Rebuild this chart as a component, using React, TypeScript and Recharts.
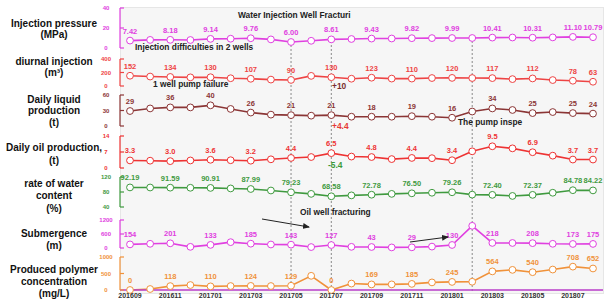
import React from "react";
import { LineChart, Line, XAxis, YAxis, LabelList, ReferenceLine } from "recharts";

const MONTHS = [
  "201609", "201610", "201611", "201612", "201701", "201702", "201703", "201704",
  "201705", "201706", "201707", "201708", "201709", "201710", "201711", "201712",
  "201801", "201802", "201803", "201804", "201805", "201806", "201807", "201808",
];

const PRESSURE = [7.42, 8.1, 8.18, 8.0, 9.14, 9.3, 9.76, 8.6, 6.0, 7.2, 8.61, 9.0, 9.43, 9.5, 9.82, 9.9, 9.99, 10.0, 10.41, 10.5, 10.31, 10.6, 11.1, 10.79];
const INJECTION = [152, 140, 134, 128, 130, 115, 107, 95, 90, 150, 130, 108, 123, 110, 110, 118, 120, 118, 117, 102, 112, 88, 78, 63];
const LIQUID = [29, 34, 36, 36, 40, 33, 26, 22, 21, 20, 21, 18, 18, 18, 19, 18, 16, 28, 34, 31, 25, 27, 25, 24];
const OIL = [3.3, 3.2, 3.0, 3.3, 3.6, 3.4, 3.2, 3.8, 4.4, 4.8, 6.5, 5.0, 4.8, 3.9, 4.4, 4.3, 3.4, 7.3, 9.5, 8.6, 6.9, 5.4, 3.7, 3.7];
const WATER = [92.19, 92.0, 91.59, 91.3, 90.91, 89.5, 87.99, 84.0, 79.23, 75.0, 68.58, 71.0, 72.78, 75.0, 76.5, 78.0, 79.26, 73.0, 72.4, 69.5, 72.37, 78.0, 84.78, 84.22];
const SUBMERGENCE = [154, 180, 201, 50, 133, 250, 185, 150, 143, 40, 127, 50, 43, 25, 29, 60, 130, 950, 218, 215, 208, 180, 173, 175];
const POLYMER = [0, 30, 118, 150, 110, 120, 124, 120, 129, 430, 0, 195, 169, 170, 185, 230, 245, 250, 564, 610, 540, 620, 708, 652];

// months with an event (dotted guides)
const EVENTS = ["201705", "201707", "201802"];

const W = 608;
const H = 307;
const FONT = '"Liberation Sans", Arial, sans-serif';

type PanelProps = {
  values: number[];
  color: string;
  domain: [number, number];
  ticks: number[];
  top: number;
  bottom: number;
  fmt: (v: number) => string;
  showX?: boolean;
};

function Panel({ values, color, domain, ticks, top, bottom, fmt, showX }: PanelProps) {
  const rows = MONTHS.map((m, i) => ({
    month: m,
    v: values[i],
    lbl: i % 2 === 0 || i === values.length - 1 ? fmt(values[i]) : null,
  }));
  const xh = showX ? 14 : 0;

  const renderTick = (p: any) => (
    <g>
      <text x={106} y={p.y} textAnchor="middle" dominantBaseline="central"
        fontSize={6} fontWeight="bold" fill={color}>
        {p.payload.value}
      </text>
      <line x1={120} x2={124} y1={p.y} y2={p.y} stroke={color} strokeWidth={1.2} />
    </g>
  );

  return (
    <div style={{ position: "absolute", left: 0, top: 0 }}>
      <LineChart width={W} height={H} data={rows}
        margin={{ top, bottom: H - bottom - xh, left: 90, right: 5 }}>
        {showX ? (
          <XAxis dataKey="month" interval={1} height={xh} padding={{ left: 10, right: 10 }}
            tickLine={false} tickSize={0} tickMargin={3}
            axisLine={{ stroke: "#b83cc8", strokeWidth: 1.5 }}
            tick={{ fontSize: 7, fill: "#333", fontWeight: "bold" }} />
        ) : (
          <XAxis dataKey="month" hide padding={{ left: 10, right: 10 }} />
        )}
        <YAxis domain={domain} ticks={ticks} interval={0} width={30}
          tickLine={false} axisLine={{ stroke: color, strokeWidth: 1.2 }} tick={renderTick} />
        <Line type="linear" dataKey="v" stroke={color} strokeWidth={1.6}
          dot={{ r: 3.4, fill: "#fff", stroke: color, strokeWidth: 1 }}
          activeDot={false} isAnimationActive={false}>
          <LabelList dataKey="lbl" position="top" offset={7}
            fill={color} fontSize={7.5} fontWeight="bold" />
        </Line>
      </LineChart>
    </div>
  );
}

function Guides() {
  const rows = MONTHS.map((m) => ({ month: m, g: 0.5 }));
  return (
    <div style={{ position: "absolute", left: 0, top: 0 }}>
      <LineChart width={W} height={H} data={rows} margin={{ top: 40, bottom: 16, left: 120, right: 5 }}>
        <XAxis dataKey="month" hide padding={{ left: 10, right: 10 }} />
        <YAxis hide domain={[0, 1]} />
        <Line dataKey="g" stroke="none" dot={false} activeDot={false} isAnimationActive={false} />
        {EVENTS.map((m) => (
          <ReferenceLine key={m} x={m} stroke="#8a8a8a" strokeWidth={1} strokeDasharray="2 2" />
        ))}
      </LineChart>
    </div>
  );
}

const titleStyle = { fontSize: 10, fontWeight: "bold" as const, fill: "#111" };
const noteStyle = { fontSize: 8.4, fontWeight: "bold" as const, fill: "#222" };

function Overlay() {
  const titles: [string, number][] = [
    ["Injection pressure", 23], ["(MPa)", 34],
    ["diurnal injection", 61], ["(m³)", 72],
    ["Daily liquid", 99], ["production", 110], ["(t)", 122],
    ["Daily oil production,", 147], ["(t)", 160],
    ["rate of water", 183], ["content", 195], ["(%)", 208],
    ["Submergence", 233], ["(m)", 245],
    ["Produced polymer", 269], ["concentration", 281], ["(mg/L)", 293],
  ];
  return (
    <svg width={W} height={H} style={{ position: "absolute", left: 0, top: 0, pointerEvents: "none" }}>
      <defs>
        <marker id="ah" markerWidth="7" markerHeight="6" refX="6" refY="3" orient="auto">
          <path d="M0,0 L7,3 L0,6 z" fill="#222" />
        </marker>
      </defs>
      {titles.map(([t, y], i) => (
        <text key={i} x={54} y={y} textAnchor="middle" dominantBaseline="central" {...titleStyle}>{t}</text>
      ))}
      <text x={238} y={15} dominantBaseline="central" {...noteStyle}>Water Injection Well Fracturi</text>
      <text x={135} y={47} dominantBaseline="central" {...noteStyle}>Injection difficulties in 2 wells</text>
      <text x={153} y={84} dominantBaseline="central" {...noteStyle}>1 well pump failure</text>
      <text x={332} y={86} dominantBaseline="central" {...noteStyle} fill="#7a2e2e">+10</text>
      <text x={332} y={126} dominantBaseline="central" {...noteStyle} fill="#e53935">+4.4</text>
      <text x={328} y={165} dominantBaseline="central" {...noteStyle} fill="#3a9a3a">-5.4</text>
      <text x={458} y={122} dominantBaseline="central" {...noteStyle}>The pump inspe</text>
      <text x={300} y={212} dominantBaseline="central" {...noteStyle}>Oil well fracturing</text>
      <line x1={262} y1={219} x2={309} y2={227} stroke="#222" strokeWidth={1} markerEnd="url(#ah)" />
      <line x1={410} y1={242} x2={448} y2={237} stroke="#222" strokeWidth={1} markerEnd="url(#ah)" />
    </svg>
  );
}

export default function App() {
  return (
    <div style={{ position: "absolute", left: 0, top: 0, width: W, height: H, background: "#fff", fontFamily: FONT }}>
      <div style={{ position: "absolute", left: 120, top: 7, width: 482, height: 285, background: "#f6f6f6", border: "1px solid #e6e6e6" }} />
      <Guides />
      <Panel values={PRESSURE} color="#e040e0" domain={[0, 40]} ticks={[0, 20, 40]} top={8} bottom={48} fmt={(v) => v.toFixed(2)} />
      <Panel values={INJECTION} color="#ee4444" domain={[0, 400]} ticks={[0, 200, 400]} top={59} bottom={86} fmt={(v) => String(v)} />
      <Panel values={LIQUID} color="#8b3535" domain={[0, 60]} ticks={[0, 30, 60]} top={95} bottom={126} fmt={(v) => String(v)} />
      <Panel values={OIL} color="#ee3333" domain={[0, 14]} ticks={[0, 7, 14]} top={136} bottom={168} fmt={(v) => v.toFixed(1)} />
      <Panel values={WATER} color="#3f9a3f" domain={[40, 120]} ticks={[40, 80, 120]} top={177} bottom={207} fmt={(v) => v.toFixed(2)} />
      <Panel values={SUBMERGENCE} color="#e040e0" domain={[0, 1200]} ticks={[0, 600, 1200]} top={220} bottom={248} fmt={(v) => String(v)} />
      <Panel values={POLYMER} color="#f0923a" domain={[0, 1000]} ticks={[0, 500, 1000]} top={257} bottom={290} fmt={(v) => String(v)} showX />
      <Overlay />
    </div>
  );
}
